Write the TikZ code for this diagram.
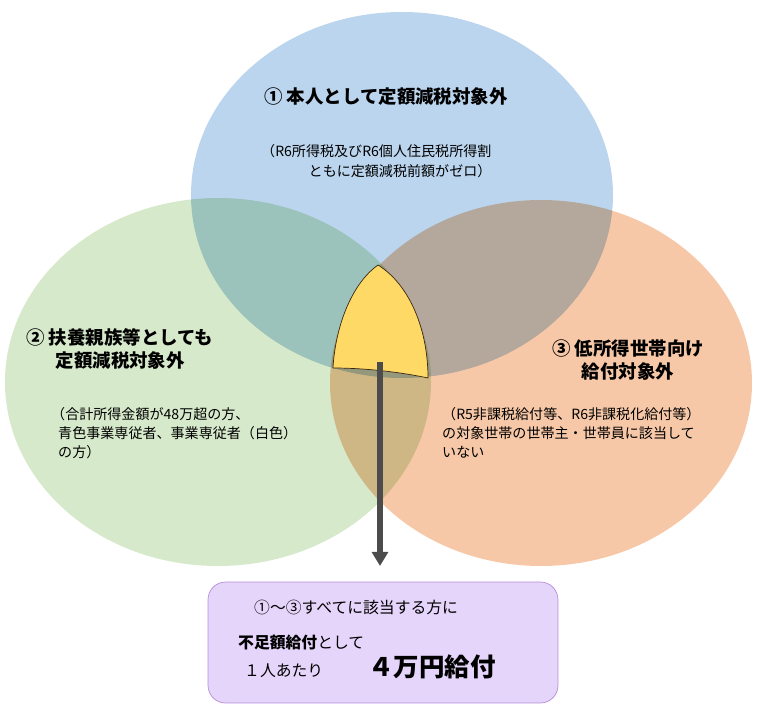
\documentclass[tikz,border=0pt]{standalone}
\usepackage{fontspec}
\setmainfont{Noto Sans CJK JP}
\usetikzlibrary{positioning,arrows.meta}
\definecolor{cblue}{HTML}{9DC3E6}
\definecolor{cgreen}{HTML}{C5E0B4}
\definecolor{corange}{HTML}{F4B183}
\definecolor{cyellow}{HTML}{FFD966}
\definecolor{cbox}{HTML}{E6D5FA}
\definecolor{cboxline}{HTML}{B58BD9}
\begin{document}
\begin{tikzpicture}[x=0.02cm,y=-0.02cm,
    circ/.style={fill opacity=0.7,draw=none},
    head/.style={font=\bfseries\fontsize{10.5}{13}\selectfont,align=left},
    note/.style={font=\fontsize{8}{11}\selectfont,align=left}]
  \useasboundingbox (0,0) rectangle (765,714);
  % three sets
  \begin{scope}[blend mode=multiply]
  \fill[circ,cblue] (402,195) ellipse [x radius=211,y radius=183];
  \fill[circ,cgreen] (218,382) ellipse [x radius=213,y radius=184];
  \fill[circ,corange] (541,383) ellipse [x radius=211,y radius=183];
  \end{scope}
  % common part
  \coordinate (ytop) at (378,265);
  \coordinate (yleft) at (333,368);
  \coordinate (yright) at (428,378);
  \draw[fill=cyellow,draw=black!70!brown,thin] (ytop) .. controls (350,285) and (335,330) .. (yleft)
    .. controls (365,368) and (400,372) .. (yright)
    .. controls (428,330) and (410,285) .. (ytop);
  % labels
  \node[head,anchor=west] (t1) at (258,97) {① 本人として定額減税対象外};
  \node[note,anchor=west,align=right] (n1) at (255,161) {（R6所得税及びR6個人住民税所得割\\ともに定額減税前額がゼロ）};
  \node[head,anchor=west] (t2) at (20,349) {② 扶養親族等としても\\\hspace{1.6em}定額減税対象外};
  \node[note,anchor=west] (n2) at (45,433) {（合計所得金額が48万超の方、\\\hspace{0.5em}青色事業専従者、事業専従者（白色）\\\hspace{0.5em}の方）};
  \node[head,anchor=west] (t3) at (546,360) {③ 低所得世帯向け\\\hspace{1.6em}給付対象外};
  \node[note,anchor=west] (n3) at (436,433) {（R5非課税給付等、R6非課税化給付等）\\の対象世帯の世帯主・世帯員に該当して\\いない};
  % result
  \node[draw=cboxline,fill=cbox,rounded corners=10pt,minimum width=7cm,minimum height=2.42cm] (res) at (383,642.5) {};
  \node[font=\fontsize{9}{10}\selectfont,anchor=west] (r1) at (248,607) {①〜③すべてに該当する方に};
  \node[font=\fontsize{9}{10}\selectfont,anchor=west] (r2) at (232,643) {\textbf{不足額給付}として};
  \node[font=\fontsize{9}{10}\selectfont,anchor=west] (r3) at (238,671) {１人あたり};
  \node[font=\bfseries\fontsize{14.5}{16}\selectfont,anchor=west] (r4) at (362,667) {４万円給付};
  \coordinate (astart) at (380,362);
  \draw[line width=3pt,black!70,-{Triangle[length=8pt,width=9pt]}] (astart) -- (380,566);
\end{tikzpicture}
\end{document}
